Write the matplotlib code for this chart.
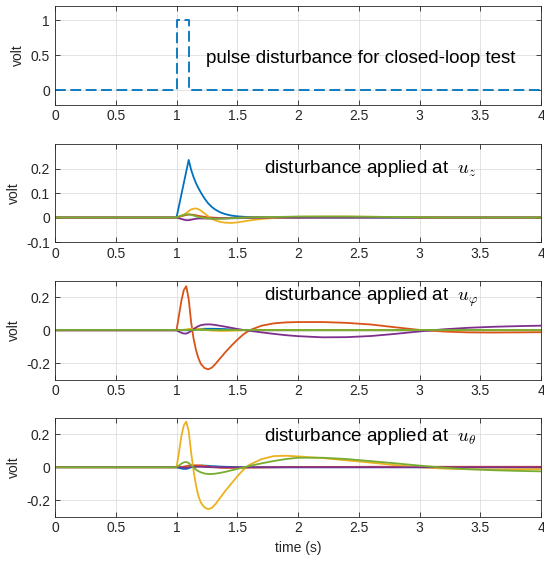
import matplotlib
matplotlib.use("Agg")
import matplotlib.pyplot as plt
from matplotlib.ticker import FormatStrFormatter

plt.rcParams['font.family'] = ['Liberation Sans', 'DejaVu Sans']
plt.rcParams['mathtext.fontset'] = 'cm'
plt.rcParams['axes.unicode_minus'] = False

# MATLAB default line colours
c_blue, c_orange, c_yellow, c_purple, c_green = '#0072BD', '#D95319', '#EDB120', '#7E2F8E', '#77AC30'
colors = [c_blue, c_orange, c_yellow, c_purple, c_green]

# pulse disturbance
t_pulse = [0, 1.0, 1.0, 1.1, 1.1, 4.0]
v_pulse = [0, 0, 1, 1, 0, 0]

# sample times of the responses
t_resp = [0, 0.5, 1.0, 1.02, 1.04, 1.06, 1.08, 1.10, 1.12, 1.14, 1.16, 1.18, 1.20,
          1.23, 1.26, 1.29, 1.32, 1.36, 1.40, 1.45, 1.50, 1.55, 1.60, 1.70, 1.80,
          1.90, 2.0, 2.2, 2.4, 2.6, 2.8, 3.0, 3.2, 3.4, 3.6, 3.8, 4.0]

# disturbance at u_z
z_blue = [0, 0, 0, 0.047, 0.094, 0.141, 0.188, 0.235, 0.195, 0.165, 0.14, 0.12, 0.102,
          0.078, 0.058, 0.043, 0.032, 0.021, 0.014, 0.008, 0.005, 0.003, 0.002, 0.001, 0,
          0, 0, 0, 0, 0, 0, 0, 0, 0, 0, 0, 0]
z_orange = [0, 0, 0, 0.002, 0.005, 0.008, 0.010, 0.012, 0.012, 0.011, 0.009, 0.007, 0.005,
            0.003, 0.001, 0, -0.001, -0.002, -0.002, -0.002, -0.001, 0, 0, 0, 0,
            0, 0, 0.001, 0.001, 0.001, 0.001, 0, 0, 0, 0, 0, 0]
z_yellow = [0, 0, 0, 0.004, 0.008, 0.012, 0.018, 0.026, 0.033, 0.036, 0.037, 0.034, 0.028,
            0.017, 0.005, -0.005, -0.012, -0.018, -0.021, -0.022, -0.02, -0.016, -0.012, -0.006, -0.002,
            0.001, 0.003, 0.004, 0.004, 0.003, 0.002, 0.001, 0, 0, 0, 0, 0]
z_purple = [0, 0, 0, -0.003, -0.006, -0.009, -0.011, -0.011, -0.009, -0.007, -0.005, -0.004, -0.004,
            -0.004, -0.004, -0.004, -0.004, -0.004, -0.004, -0.003, -0.003, -0.002, -0.002, -0.001, 0,
            0, 0, 0, 0, 0, 0, 0, 0, 0, 0, 0, 0]
z_green = [0, 0, 0, 0.004, 0.008, 0.011, 0.013, 0.013, 0.011, 0.008, 0.005, 0.002, 0,
           -0.002, -0.004, -0.005, -0.005, -0.005, -0.004, -0.003, -0.002, -0.001, 0, 0.001, 0.002,
           0.003, 0.004, 0.004, 0.004, 0.003, 0.002, 0.001, 0, 0, 0, 0, 0]

# disturbance at u_phi
p_blue = [0, 0, 0, 0, 0, 0, 0, 0, 0.002, 0.004, 0.005, 0.007, 0.008,
          0.009, 0.009, 0.009, 0.009, 0.008, 0.007, 0.005, 0.003, 0.001, 0, 0, 0,
          0, 0, 0, 0, 0, 0, 0, 0, 0, 0, 0, 0]
p_orange = [0, 0, 0, 0.09, 0.18, 0.245, 0.268, 0.19, 0.05, -0.05, -0.12, -0.17, -0.205,
            -0.23, -0.238, -0.228, -0.205, -0.17, -0.135, -0.095, -0.058, -0.025, 0.0, 0.028, 0.042,
            0.048, 0.05, 0.05, 0.045, 0.035, 0.018, 0.002, -0.008, -0.013, -0.014, -0.013, -0.012]
p_yellow = [0, 0, 0, 0.001, 0.002, 0.003, 0.005, 0.008, 0.009, 0.01, 0.009, 0.008, 0.006,
            0.004, 0.001, -0.002, -0.003, -0.004, -0.004, -0.003, -0.002, -0.001, 0, 0, 0,
            0, 0, 0, 0, 0, 0, 0, 0, 0, 0, 0, 0]
p_purple = [0, 0, 0, -0.008, -0.015, -0.02, -0.02, -0.014, -0.004, 0.007, 0.017, 0.025, 0.031,
            0.035, 0.036, 0.035, 0.032, 0.027, 0.022, 0.015, 0.008, 0.002, -0.003, -0.013, -0.022,
            -0.03, -0.036, -0.043, -0.042, -0.035, -0.022, -0.007, 0.006, 0.015, 0.021, 0.025, 0.028]
p_green = [0] * len(t_resp)

# disturbance at u_theta
q_blue = [0, 0, 0, -0.004, -0.008, -0.01, -0.01, -0.006, 0.0, 0.003, 0.006, 0.008, 0.01,
          0.01, 0.009, 0.007, 0.006, 0.004, 0.003, 0.002, 0.001, 0, 0, 0, 0,
          0, 0, 0, 0, 0, 0, 0, 0, 0, 0, 0, 0]
q_orange = [0, 0, 0, 0.001, 0.002, 0.004, 0.007, 0.01, 0.011, 0.012, 0.012, 0.012, 0.011,
            0.008, 0.005, 0.002, 0.0, -0.003, -0.004, -0.004, -0.003, -0.003, -0.002, -0.001, 0,
            0.001, 0.001, 0.002, 0.002, 0.003, 0.003, 0.003, 0.003, 0.003, 0.003, 0.003, 0.003]
q_yellow = [0, 0, 0, 0.09, 0.19, 0.255, 0.278, 0.22, 0.09, -0.02, -0.11, -0.175, -0.215,
            -0.245, -0.255, -0.248, -0.225, -0.185, -0.145, -0.1, -0.055, -0.015, 0.015, 0.05, 0.068,
            0.07, 0.066, 0.056, 0.042, 0.028, 0.013, 0.0, -0.008, -0.012, -0.013, -0.012, -0.011]
q_purple = [0, 0, 0, 0, -0.001, -0.002, -0.003, -0.001, 0.002, 0.003, 0.003, 0.003, 0.003,
            0.002, 0.001, 0, 0, 0, 0, 0, 0, 0, 0, 0, 0,
            0, 0, 0, 0, 0, 0, 0, 0, 0, 0, 0, 0]
q_green = [0, 0, 0, 0.01, 0.022, 0.03, 0.032, 0.026, 0.012, -0.002, -0.014, -0.024, -0.031,
           -0.038, -0.041, -0.041, -0.039, -0.034, -0.028, -0.019, -0.01, -0.001, 0.008, 0.024, 0.038,
           0.05, 0.058, 0.058, 0.05, 0.037, 0.024, 0.01, -0.003, -0.012, -0.018, -0.022, -0.025]

x_ticks = [0, 0.5, 1, 1.5, 2, 2.5, 3, 3.5, 4]

fig = plt.figure(figsize=(5.44, 5.61), dpi=100)
left, width = 0.101, 0.894
boxes = [(0.8137, 0.1756), (0.5686, 0.1747), (0.3235, 0.1756), (0.0793, 0.1756)]
axes = [fig.add_axes([left, b, width, h]) for b, h in boxes]

for ax in axes:
    ax.set_xlim(0, 4)
    ax.set_xticks(x_ticks)
    ax.xaxis.set_major_formatter(FormatStrFormatter('%g'))
    ax.yaxis.set_major_formatter(FormatStrFormatter('%g'))
    ax.grid(True, color='#dedede', linewidth=0.6)
    ax.set_axisbelow(True)
    ax.tick_params(direction='in', top=True, right=True, length=3.5, width=0.6,
                   labelsize=10, colors='#262626')
    for s in ax.spines.values():
        s.set_color('#262626')
        s.set_linewidth(0.6)
    ax.set_ylabel('volt', fontsize=10, color='#262626')

ax = axes[0]
ax.plot(t_pulse, v_pulse, color=c_blue, lw=1.3, dashes=(6, 2.5))
ax.set_ylim(-0.2, 1.2)
ax.set_yticks([0, 0.5, 1])
ax.text(1.24, 0.46, 'pulse disturbance for closed-loop test', fontsize=13.5, va='center')

panels = [
    (axes[1], [z_blue, z_orange, z_yellow, z_purple, z_green], (-0.1, 0.3), [-0.1, 0, 0.1, 0.2], r'$u_z$', 0.2),
    (axes[2], [p_blue, p_orange, p_yellow, p_purple, p_green], (-0.3, 0.3), [-0.2, 0, 0.2], r'$u_\varphi$', 0.2),
    (axes[3], [q_blue, q_orange, q_yellow, q_purple, q_green], (-0.3, 0.3), [-0.2, 0, 0.2], r'$u_\theta$', 0.19),
]
for ax, series, ylim, yticks, sym, ytext in panels:
    for vals, c in zip(series, colors):
        ax.plot(t_resp, vals, color=c, lw=1.3)
    ax.set_ylim(*ylim)
    ax.set_yticks(yticks)
    ax.text(1.72, ytext, 'disturbance applied at  ' + sym, fontsize=13.5, va='center')

axes[3].set_xlabel('time (s)', fontsize=10, color='#262626')

fig.savefig('out.png', dpi=100)
